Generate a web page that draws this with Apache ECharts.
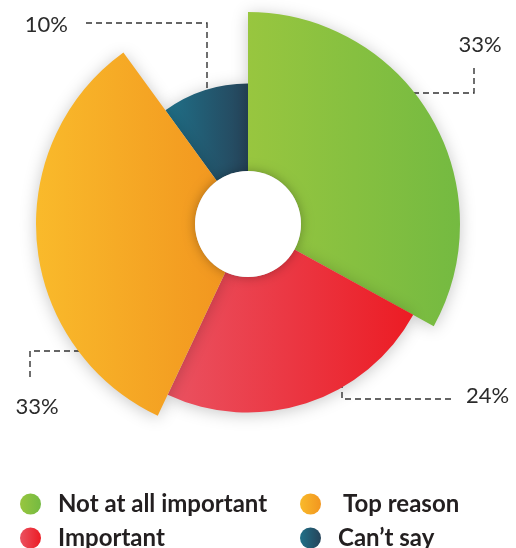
<!DOCTYPE html>
<html>
<head>
<meta charset="utf-8">
<script src="https://cdn.jsdelivr.net/npm/echarts@6/dist/echarts.min.js"></script>
<style>
  html, body { margin: 0; padding: 0; background: #ffffff; }
  #chart { width: 516px; height: 548px; }
</style>
</head>
<body>
<div id="chart"></div>
<script>
// Survey answers, in clockwise order from twelve o'clock
const categories = ['Not at all important', 'Important', 'Top reason', 'Can\u2019t say'];
const shares = [33, 24, 33, 10];

// Drawing order (bottom to top) of the slices
const stackOrder = [3, 0, 1, 2];

const sliceColors = [
  ['#98c63f', '#74ba41'],
  ['#ea5261', '#ec1c24'],
  ['#f9ba2b', '#f2961f'],
  ['#1f7088', '#26445a']
];

const CX = 248, CY = 224;
const R_INNER = 53, R_OUTER = 212;
const maxShare = Math.max.apply(null, shares);
// outer radius grows with the square root of the share
const radiusOf = v => R_INNER + (R_OUTER - R_INNER) * Math.sqrt(v / maxShare);

// elbow leader lines and label anchors, relative to the centre
const callouts = [
  { pts: [[105, -131], [226, -131], [226, -156]], at: [232, -179], align: 'center' },
  { pts: [[94, 118], [94, 175], [207, 175]], at: [218, 172], align: 'left' },
  { pts: [[-118, 127], [-218, 127], [-218, 157]], at: [-211, 183], align: 'center' },
  { pts: [[-41, -106], [-41, -201], [-165, -201]], at: [-180, -199], align: 'right' }
];

function hGradient(pair) {
  return new echarts.graphic.LinearGradient(0, 0, 1, 0, [
    { offset: 0, color: pair[0] },
    { offset: 1, color: pair[1] }
  ]);
}

function sliceSeries(i) {
  const c = callouts[i];
  return {
    type: 'pie',
    center: [CX, CY],
    radius: [R_INNER, radiusOf(shares[i])],
    startAngle: 90,
    clockwise: true,
    silent: true,
    animation: false,
    avoidLabelOverlap: false,
    emphasis: { disabled: true },
    data: shares.map((v, j) => j === i ? {
      name: categories[j],
      value: v,
      itemStyle: {
        color: hGradient(sliceColors[j]),
        shadowBlur: 16,
        shadowColor: 'rgba(0,0,0,0.22)',
        shadowOffsetY: 2
      },
      label: {
        show: true,
        position: 'outside',
        formatter: '{d}%',
        fontFamily: 'Lato',
        fontWeight: 'normal',
        fontSize: 22,
        color: '#2b2b2b'
      },
      labelLine: {
        show: true,
        smooth: false,
        lineStyle: { color: '#333333', width: 1.4, type: [6, 4] }
      }
    } : {
      name: '',
      value: v,
      itemStyle: { color: 'rgba(0,0,0,0)' },
      label: { show: false },
      labelLine: { show: false }
    }),
    labelLayout: function () {
      return {
        x: CX + c.at[0],
        y: CY + c.at[1],
        align: c.align,
        verticalAlign: 'middle',
        labelLinePoints: c.pts.map(p => [CX + p[0], CY + p[1]])
      };
    }
  };
}

const legendText = {
  fontFamily: 'Lato',
  fontWeight: 'bold',
  fontSize: 24,
  color: '#231f20',
  padding: [0, 0, 0, 12]
};

function legendColumn(left, names) {
  return {
    orient: 'vertical',
    left: left,
    top: 492,
    height: 90,
    padding: 0,
    itemWidth: 21,
    itemHeight: 21,
    itemGap: 10,
    icon: 'circle',
    selectedMode: false,
    data: names,
    textStyle: legendText
  };
}

const chart = echarts.init(document.getElementById('chart'), null, { renderer: 'canvas' });
chart.setOption({
  backgroundColor: '#ffffff',
  animation: false,
  legend: [
    legendColumn(20, [categories[0], categories[1]]),
    legendColumn(300, [
      { name: categories[2], textStyle: Object.assign({}, legendText, { padding: [0, 0, 0, 17] }) },
      categories[3]
    ])
  ],
  series: stackOrder.map(sliceSeries),
  graphic: [{
    type: 'circle',
    z: 100,
    silent: true,
    shape: { cx: CX, cy: CY, r: R_INNER },
    style: { fill: '#ffffff', shadowBlur: 12, shadowColor: 'rgba(0,0,0,0.3)' }
  }]
});
</script>
</body>
</html>
